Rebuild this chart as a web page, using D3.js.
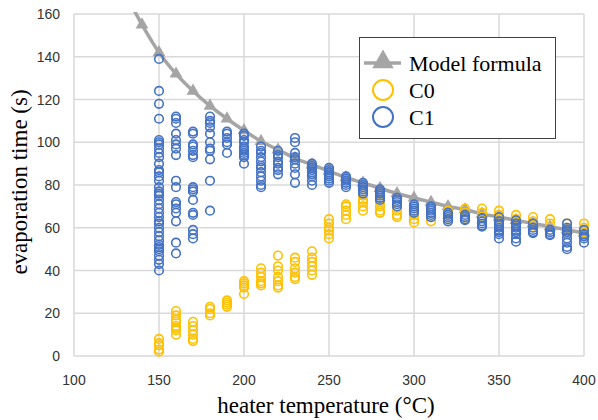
<!DOCTYPE html>
<html>
<head>
<meta charset="utf-8">
<script src="https://cdn.jsdelivr.net/npm/d3@7"></script>
<style>
  body { margin: 0; background: #fff; }
  svg { display: block; }
</style>
</head>
<body>
<svg id="chart" width="598" height="420"></svg>
<script>
// model formula curve
const modelTemps = [130, 140, 150, 160, 170, 180, 190, 200, 210, 220, 230, 240, 250, 260, 270, 280, 290, 300, 310, 320, 330, 340, 350, 360, 370, 380, 390, 400];
const modelTimes = [170, 155, 142, 132, 124, 117, 111, 105.5, 100.5, 96.5, 92.5, 89.5, 86.5, 83.5, 81, 78.5, 76, 74, 72, 70, 68.5, 66.5, 65, 63.5, 62, 60.5, 59, 57.5];

const temps = [150, 160, 170, 180, 190, 200, 210, 220, 230, 240, 250, 260, 270, 280, 290, 300, 310, 320, 330, 340, 350, 360, 370, 380, 390, 400];

// C0 measurements, one list per temperature
const c0Times = [
  [8, 6, 5, 3, 2],
  [21, 19, 17, 16, 14, 13, 12, 10],
  [16, 14, 12, 10, 8, 7],
  [23, 22, 20, 19],
  [26, 25, 24, 23],
  [35, 34, 33, 32, 29],
  [41, 39, 37, 35, 34, 33],
  [47, 42, 40, 37, 35, 33, 32],
  [46, 44, 41, 39, 37, 36],
  [49, 46, 44, 42, 40, 38],
  [64, 62, 60, 59, 57, 55],
  [71, 70, 68, 66, 64],
  [75, 73, 72, 70, 68],
  [73, 72, 70, 68, 67],
  [70, 68, 66, 65],
  [68, 66, 64, 62.5],
  [67, 65, 63],
  [68, 66, 64],
  [69, 67, 65, 64],
  [69, 67, 65],
  [68, 66, 64],
  [66, 64, 63],
  [65, 63, 61],
  [64, 62],
  [62, 60, 58],
  [62, 60, 58]
];

// C1 measurements, one list per temperature
const c1Times = [
  [139, 124, 118, 111, 101, 100, 99, 97, 95, 93, 90, 87, 86, 84, 82, 79, 77, 76, 75, 73, 71, 69, 67, 65, 63, 62, 60, 58, 56, 54, 52, 51, 50, 49, 47, 45, 43, 40],
  [112, 111, 109, 104, 101, 99, 97, 94, 82, 79, 72, 71, 69, 67, 63, 53, 48],
  [105, 104, 99, 98, 96, 94, 93, 79, 78, 77, 73, 67, 66, 59, 57, 55],
  [112, 110, 109, 107, 104, 100, 97, 96, 92, 82, 68],
  [105, 104, 102, 100, 99, 95],
  [104, 103, 101, 100, 98, 97, 96, 95, 94, 93, 90],
  [98, 96, 95, 93, 91, 89, 88, 86, 84, 82, 80, 79],
  [96, 94, 93, 91, 90, 88, 87, 85],
  [102, 100, 95, 93, 92, 90, 88, 85, 81],
  [90, 89, 88, 87, 86, 85, 84, 82, 80],
  [88, 87, 86, 85, 84, 83, 82, 81],
  [84, 83, 82, 81, 80, 79],
  [81, 80, 79, 78, 77, 76],
  [78, 77, 76, 75, 74, 73],
  [74, 73, 72, 71, 70],
  [71, 70, 69, 68, 67],
  [70, 69, 68, 67, 66, 65],
  [67, 66, 65, 64, 63],
  [66, 65, 64, 63.5],
  [64.5, 63, 62, 61, 60.5],
  [65, 63, 62, 61, 60, 59, 58, 57, 55],
  [63.5, 62, 61, 60, 59, 58, 57, 55, 53.5],
  [62, 60, 59, 58, 57.5],
  [59, 58, 57, 56.5],
  [62, 60, 59, 58, 57, 55, 53, 51, 50],
  [59, 57, 56, 55, 53]
];

const xTicks = [100, 150, 200, 250, 300, 350, 400];
const yTicks = [0, 20, 40, 60, 80, 100, 120, 140, 160];
const legendLabels = ["Model formula", "C0", "C1"];

const gray = "#a5a5a5", orange = "#ffc000", blue = "#4472c4";

const svg = d3.select("#chart");
const x = d3.scaleLinear().domain([100, 400]).range([74, 584]);
const y = d3.scaleLinear().domain([0, 160]).range([356, 14]);

// gridlines
svg.append("g").selectAll("line").data(xTicks).join("line")
  .attr("x1", d => x(d)).attr("x2", d => x(d))
  .attr("y1", y(0)).attr("y2", y(160))
  .attr("stroke", "#d9d9d9").attr("stroke-width", 1.5);
svg.append("g").selectAll("line").data(yTicks).join("line")
  .attr("x1", x(100)).attr("x2", x(400))
  .attr("y1", d => y(d)).attr("y2", d => y(d))
  .attr("stroke", "#d9d9d9").attr("stroke-width", 1.5);

// tick labels
svg.append("g").selectAll("text").data(xTicks).join("text")
  .attr("x", d => x(d)).attr("y", 385)
  .attr("text-anchor", "middle")
  .attr("font-family", "Liberation Sans, Arial, sans-serif")
  .attr("font-size", 14).attr("fill", "#333")
  .text(d => d);
svg.append("g").selectAll("text").data(yTicks).join("text")
  .attr("x", 60).attr("y", d => y(d) + 5)
  .attr("text-anchor", "end")
  .attr("font-family", "Liberation Sans, Arial, sans-serif")
  .attr("font-size", 14).attr("fill", "#333")
  .text(d => d);

// axis titles
svg.append("text")
  .attr("transform", "translate(27,182) rotate(-90)")
  .attr("text-anchor", "middle")
  .attr("font-family", "Liberation Serif, Times New Roman, serif")
  .attr("font-size", 23).attr("fill", "#000")
  .text("evaporation time (s)");
svg.append("text")
  .attr("x", 326).attr("y", 413)
  .attr("text-anchor", "middle")
  .attr("font-family", "Liberation Serif, Times New Roman, serif")
  .attr("font-size", 23).attr("fill", "#000")
  .text("heater temperature (°C)");

// clip for the plot area
svg.append("clipPath").attr("id", "plot-clip")
  .append("rect").attr("x", x(100)).attr("y", y(160) - 2)
  .attr("width", x(400) - x(100) + 10).attr("height", y(0) - y(160) + 4);

const plot = svg.append("g").attr("clip-path", "url(#plot-clip)");

// model formula line + triangles
const modelPts = modelTemps.map((t, i) => [t, modelTimes[i]]);
plot.append("path")
  .datum(modelPts)
  .attr("d", d3.line().x(d => x(d[0])).y(d => y(d[1])).curve(d3.curveMonotoneX))
  .attr("fill", "none").attr("stroke", gray).attr("stroke-width", 3.5);

const tri = d3.symbol().type(d3.symbolTriangle).size(72);
plot.append("g").selectAll("path").data(modelPts.filter(d => d[1] <= 160)).join("path")
  .attr("transform", d => `translate(${x(d[0])},${y(d[1])})`)
  .attr("d", tri).attr("fill", gray);

// scatter series
function drawSeries(values, color) {
  const pts = [];
  temps.forEach((t, i) => values[i].forEach(v => pts.push([t, v])));
  plot.append("g").selectAll("circle").data(pts).join("circle")
    .attr("cx", d => x(d[0])).attr("cy", d => y(d[1]))
    .attr("r", 4.3)
    .attr("fill", "none").attr("stroke", color).attr("stroke-width", 1.6);
}
drawSeries(c0Times, orange);
drawSeries(c1Times, blue);

// legend
const legend = svg.append("g");
legend.append("rect")
  .attr("x", 359.5).attr("y", 37.5).attr("width", 196).attr("height", 101)
  .attr("fill", "#fff").attr("stroke", "#404040").attr("stroke-width", 1);

const rowY = [63, 90, 117];
legend.append("line")
  .attr("x1", 364).attr("x2", 401).attr("y1", rowY[0]).attr("y2", rowY[0])
  .attr("stroke", gray).attr("stroke-width", 3.5);
legend.append("path")
  .attr("transform", `translate(383,${rowY[0] - 1})`)
  .attr("d", d3.symbol().type(d3.symbolTriangle).size(200))
  .attr("fill", gray);
legend.append("circle").attr("cx", 383).attr("cy", rowY[1]).attr("r", 10)
  .attr("fill", "none").attr("stroke", orange).attr("stroke-width", 2);
legend.append("circle").attr("cx", 383).attr("cy", rowY[2]).attr("r", 10)
  .attr("fill", "none").attr("stroke", blue).attr("stroke-width", 2);

legend.selectAll("text").data(legendLabels).join("text")
  .attr("x", 409).attr("y", (d, i) => rowY[i] + 8)
  .attr("font-family", "Liberation Serif, Times New Roman, serif")
  .attr("font-size", 22).attr("fill", "#000")
  .text(d => d);
</script>
</body>
</html>
